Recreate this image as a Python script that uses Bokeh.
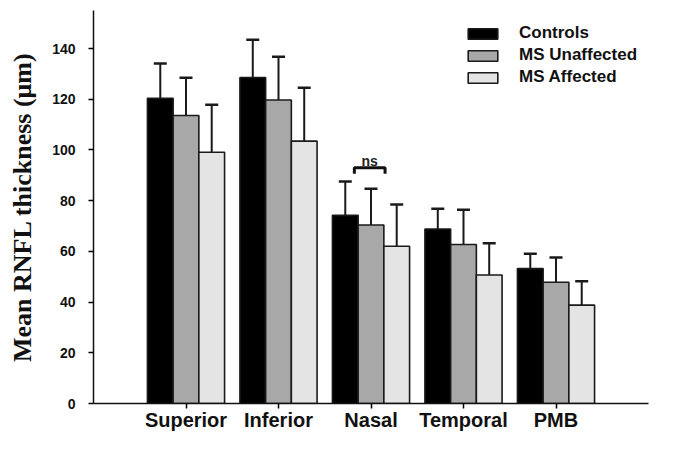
from bokeh.plotting import figure
from bokeh.models import (ColumnDataSource, FixedTicker, Legend, LegendItem,
                          Whisker, TeeHead, Range1d, Label)
from bokeh.embed import file_html
from bokeh.resources import INLINE

categories = ["Superior", "Inferior", "Nasal", "Temporal", "PMB"]
series_names = ["Controls", "MS Unaffected", "MS Affected"]
controls = [120.4, 128.6, 74.2, 68.8, 53.2]
controls_sd = [13.7, 14.9, 13.4, 8.0, 5.9]
ms_unaffected = [113.6, 119.7, 70.4, 62.7, 47.8]
ms_unaffected_sd = [14.9, 17.1, 14.3, 13.7, 9.8]
ms_affected = [99.1, 103.5, 62.0, 50.7, 38.8]
ms_affected_sd = [18.7, 21.0, 16.5, 12.5, 9.4]
y_ticks = [0, 20, 40, 60, 80, 100, 120, 140]
ns_label = "ns"

fills = ["#000000", "#a8a8a8", "#e4e4e4"]
bar_w = 0.278
pos = list(range(1, len(categories) + 1))

p = figure(width=660, height=433, output_backend="svg", toolbar_location=None,
           x_range=Range1d(0, len(categories) + 1), y_range=Range1d(0, 155),
           min_border_left=93, min_border_right=12, min_border_top=10,
           min_border_bottom=26)
p.outline_line_color = None
p.grid.visible = False
p.background_fill_color = "white"

series = [(controls, controls_sd), (ms_unaffected, ms_unaffected_sd),
          (ms_affected, ms_affected_sd)]
items = []
for i, ((vals, sds), name, fc) in enumerate(zip(series, series_names, fills)):
    off = (i - 1) * bar_w
    xs = [x + off for x in pos]
    src = ColumnDataSource(dict(x=xs, top=vals,
                                hi=[v + s for v, s in zip(vals, sds)]))
    r = p.vbar(x="x", top="top", bottom=0, width=bar_w, source=src,
               fill_color=fc, line_color="#1a1a1a", line_width=1.6)
    items.append(LegendItem(label=name, renderers=[r]))
    w = Whisker(base="x", lower="top", upper="hi", source=src,
                line_color="#1a1a1a", line_width=2, level="overlay",
                lower_head=None,
                upper_head=TeeHead(size=13, line_color="#1a1a1a", line_width=2.5))
    p.add_layout(w)

# ns bracket over Nasal controls vs MS unaffected
ni = pos[categories.index("Nasal")]
bx0, bx1 = ni - 0.180, ni + 0.152
p.line(x=[bx0, bx0, bx1, bx1], y=[90.6, 93.0, 93.0, 90.6],
       line_color="#111111", line_width=3)
p.add_layout(Label(x=(bx0 + bx1) / 2, y=95.6, text=ns_label, text_align="center",
                   text_baseline="alphabetic", text_font="Liberation Sans",
                   text_font_style="bold", text_font_size="14px",
                   text_color="#222222"))

legend = Legend(items=items, location=(371, 316), orientation="vertical",
                glyph_width=37, glyph_height=13, label_standoff=18,
                spacing=2, padding=0, margin=0,
                border_line_alpha=0, background_fill_alpha=0,
                label_text_font="Liberation Sans", label_text_font_style="bold",
                label_text_font_size="17px", label_text_color="#111111")
p.add_layout(legend)

xa = p.xaxis[0]
xa.axis_label = None
xa.axis_label_standoff = 0
xa.ticker = FixedTicker(ticks=pos)
xa.major_label_overrides = {x: c for x, c in zip(pos, categories)}
xa.major_label_text_font = "Liberation Sans"
xa.major_label_text_font_style = "bold"
xa.major_label_text_font_size = "20px"
xa.major_label_text_color = "#111111"
xa.major_label_standoff = 0
xa.major_tick_out = 5
xa.major_tick_in = 0
xa.minor_tick_out = 0
xa.minor_tick_in = 0
xa.axis_line_width = 1.5
xa.axis_line_color = "#111111"
xa.major_tick_line_width = 1.5

ya = p.yaxis[0]
ya.ticker = FixedTicker(ticks=y_ticks)
ya.major_label_text_font = "Liberation Sans"
ya.major_label_text_font_style = "bold"
ya.major_label_text_font_size = "14px"
ya.major_label_text_color = "#111111"
ya.major_label_standoff = 13
ya.major_tick_out = 5
ya.major_tick_in = 0
ya.minor_tick_out = 0
ya.minor_tick_in = 0
ya.axis_line_width = 1.5
ya.axis_line_color = "#111111"
ya.major_tick_line_width = 1.5
ya.axis_label = "Mean RNFL thickness (\u03bcm)"
ya.axis_label_text_font = "Liberation Serif"
ya.axis_label_text_font_style = "bold"
ya.axis_label_text_font_size = "26px"
ya.axis_label_text_color = "#111111"
ya.axis_label_standoff = 12

open("out.html", "w").write(file_html(p, INLINE))
